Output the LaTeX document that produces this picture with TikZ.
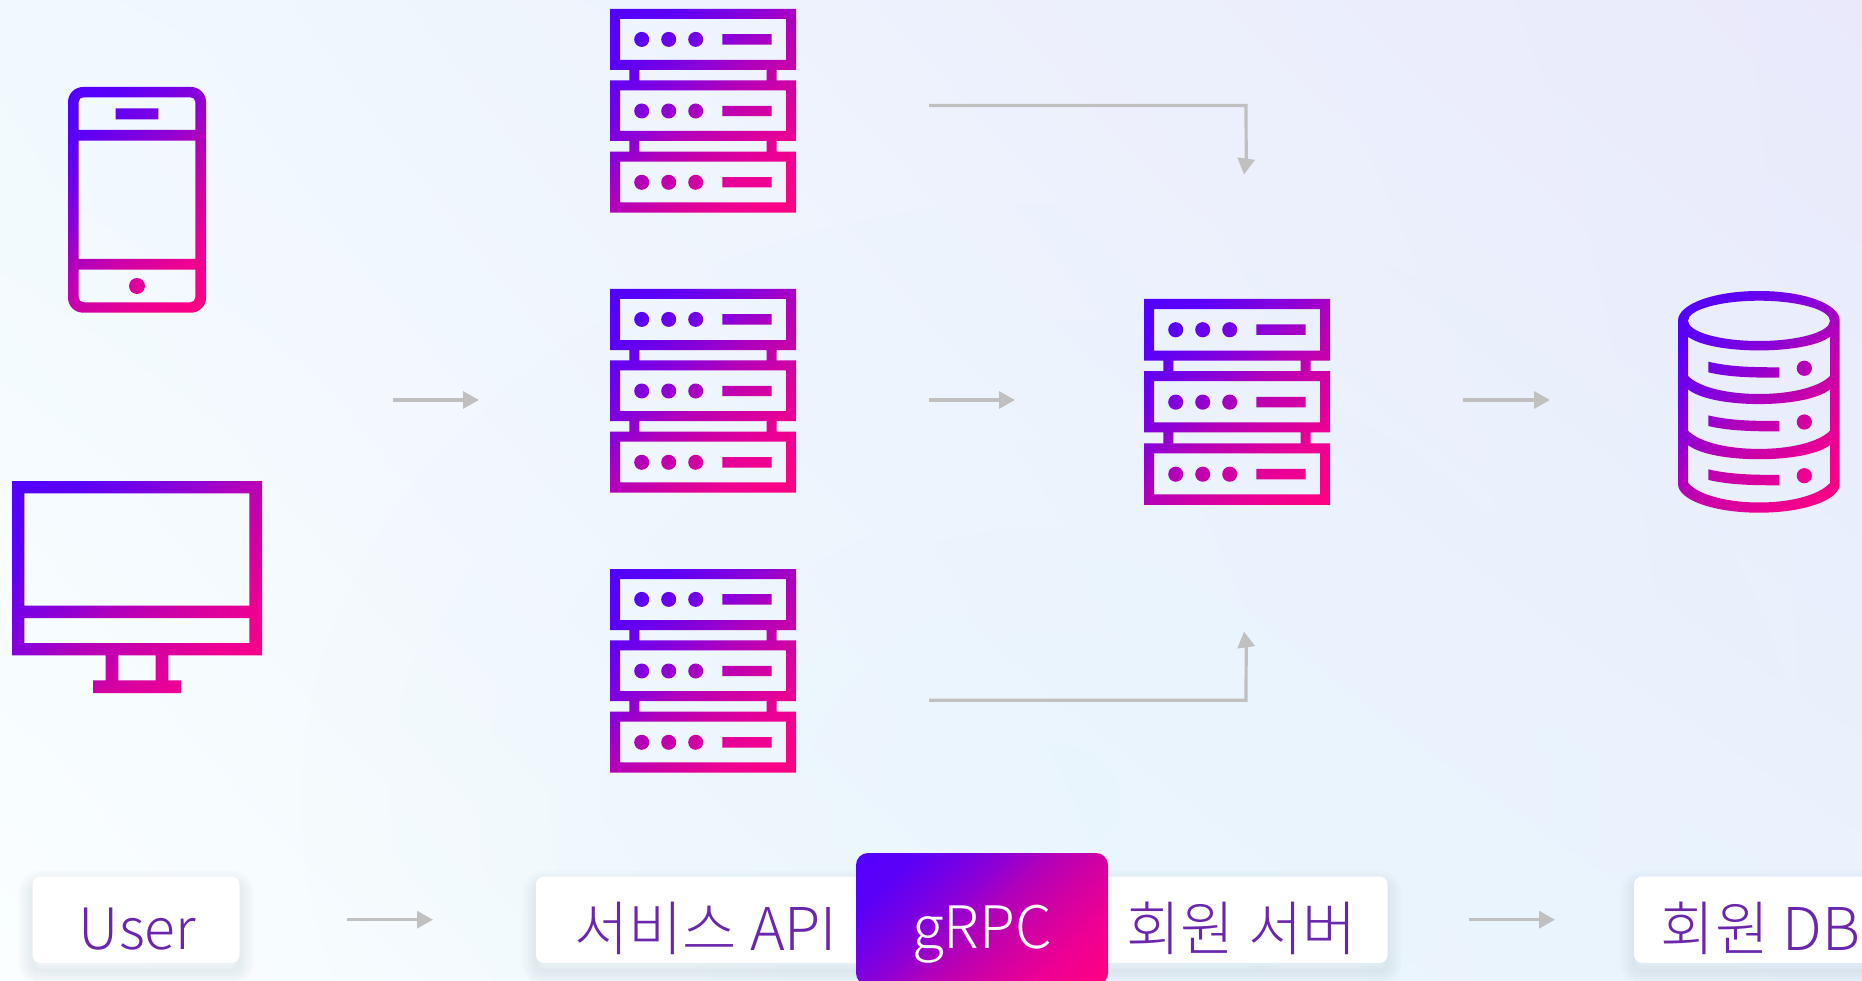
\documentclass[tikz,border=0pt]{standalone}
\usepackage{fontspec}
\usetikzlibrary{arrows.meta,calc,shadings,fadings}
\newfontfamily\krfont{Noto Sans CJK KR Light}
\definecolor{gradA}{HTML}{5200FF}
\definecolor{gradP}{HTML}{5C00F7}
\definecolor{gradQ}{HTML}{7800E4}
\definecolor{gradR}{HTML}{9000D4}
\definecolor{gradS}{HTML}{B000BC}
\definecolor{gradT}{HTML}{D000A4}
\definecolor{gradU}{HTML}{EC0094}
\definecolor{gradB}{HTML}{FF0080}
\definecolor{labelc}{HTML}{6A27AE}
\definecolor{arrowc}{HTML}{C0C0C0}
\definecolor{bgUL}{HTML}{F1F9FE}
\definecolor{bgUR}{HTML}{E9E9FB}
\definecolor{bgLL}{HTML}{FAFEFF}
\definecolor{bgLR}{HTML}{E9F3FD}
\definecolor{blobc}{HTML}{E4F4FD}
\definecolor{shadowc}{HTML}{50607A}
\tikzfading[name=blobfade,inner color=transparent!50,outer color=transparent!100]
\pgfdeclarehorizontalshading{iconGrad}{100bp}{color(0bp)=(gradA); color(14.6bp)=(gradA); color(25.9bp)=(gradP); color(35.8bp)=(gradQ); color(42.9bp)=(gradR); color(50bp)=(gradS); color(60.6bp)=(gradT); color(71.2bp)=(gradU); color(85.4bp)=(gradB); color(100bp)=(gradB)}
\tikzset{
  x=1pt,y=-1pt,
  iconfill/.style={even odd rule,shading=iconGrad,shading angle=-45},
  flow/.style={draw=arrowc,line width=3.2pt,-{Triangle[length=16pt,width=17pt]}},
  softshade/.style={preaction={draw=shadowc,line width=#1pt,opacity=.018,transform canvas={yshift=-8pt}}},
  labelbox/.style={rounded corners=8pt,inner sep=0pt,minimum height=86.3pt,text height=61.6pt,text depth=0pt,
    font=\krfont\fontsize{59}{59}\selectfont,text=labelc,fill=white,
    softshade=28,softshade=22,softshade=16,softshade=10,softshade=4},
  grpcbox/.style={rounded corners=12pt,inner sep=0pt,minimum height=132pt,minimum width=252pt,text height=58.6pt,text depth=0pt,
    font=\krfont\fontsize{58.5}{58.5}\selectfont,text=white,shading=iconGrad,shading angle=-45}
}
\newcommand\serverat[3]{%
  \path[iconfill,shift={(#1,#2)},yscale=#3]
    (0,0) rectangle (186,61) (10,10) rectangle (176,51)
    (0,71.3) rectangle (186,132) (10,81.3) rectangle (176,122)
    (0,142.7) rectangle (186,203.7) (10,152.7) rectangle (176,193.3)
    (19.3,61) rectangle (29.3,71.3) (156.7,61) rectangle (166.7,71.3)
    (19.3,132) rectangle (29.3,142.7) (156.7,132) rectangle (166.7,142.7)
    (31.7,30.4) circle[radius=7.5pt] (58.7,30.4) circle[radius=7.5pt] (85.7,30.4) circle[radius=7.5pt]
    (31.7,102) circle[radius=7.5pt] (58.7,102) circle[radius=7.5pt] (85.7,102) circle[radius=7.5pt]
    (31.7,173.3) circle[radius=7.5pt] (58.7,173.3) circle[radius=7.5pt] (85.7,173.3) circle[radius=7.5pt]
    (112.3,25.2) rectangle (161.7,35.6)
    (112.3,96.8) rectangle (161.7,107.2)
    (112.3,168.1) rectangle (161.7,178.5);
}
\begin{document}
\begin{tikzpicture}
\useasboundingbox (0,0) rectangle (1862,981);
\clip (0,0) rectangle (1862,981);
% background
\shade[upper left=bgUL,upper right=bgUR,lower left=bgLL,lower right=bgLR] (0,0) rectangle (1862,981);
\fill[blobc,path fading=blobfade,fit fading=true] (300,200) rectangle (1800,1400);
% phone
\path[iconfill]
  [rounded corners=15pt] (68,87) rectangle (206,312.7) [sharp corners]
  (78.7,130) -- (78.7,102) .. controls (78.7,99) and (80.7,97.3) .. (83.7,97.3) -- (190.3,97.3) .. controls (193.3,97.3) and (195.3,99) .. (195.3,102) -- (195.3,130) -- cycle
  (78.7,140.7) rectangle (195.3,259)
  (78.7,269.7) -- (195.3,269.7) -- (195.3,297.3) .. controls (195.3,300.3) and (193.3,302.3) .. (190.3,302.3) -- (83.7,302.3) .. controls (80.7,302.3) and (78.7,300.3) .. (78.7,297.3) -- cycle
  (115.7,108.3) rectangle (158.3,119.3)
  (137,286) circle[radius=8pt];
% monitor
\path[iconfill]
  (12,481) rectangle (262,655.3)
  (24.3,493.3) rectangle (249.3,605.7)
  (24.3,618) rectangle (249.3,643)
  (105.7,655.3) rectangle (118.3,680.3)
  (155.7,655.3) rectangle (168.3,680.3)
  (93,680.3) rectangle (181,693);
% servers
\serverat{610}{9}{1}
\serverat{610}{289}{1}
\serverat{610}{569}{1}
\serverat{1144}{299}{1.011}
% database
\path[iconfill]
  (1678,320.7) .. controls (1678,304) and (1714,291) .. (1759,291) .. controls (1804,291) and (1839.7,304) .. (1839.7,320.7)
    -- (1839.7,484) .. controls (1839.7,500) and (1804,512.7) .. (1759,512.7) .. controls (1714,512.7) and (1678,500) .. (1678,484) -- cycle
  (1688,320.8) .. controls (1688,309.7) and (1720,300.7) .. (1759,300.7) .. controls (1798,300.7) and (1830,309.7) .. (1830,320.8)
    .. controls (1830,332) and (1798,341) .. (1759,341) .. controls (1720,341) and (1688,332) .. (1688,320.8) -- cycle
  (1688,336.7) .. controls (1712,355) and (1806,355) .. (1830,336.7) -- (1830,376) .. controls (1806,400) and (1712,400) .. (1688,376) -- cycle
  (1688,389.3) .. controls (1712,409) and (1806,409) .. (1830,389.3) -- (1830,430.7) .. controls (1806,455) and (1712,455) .. (1688,430.7) -- cycle
  (1688,445) .. controls (1712,464) and (1806,464) .. (1830,445) -- (1830,483) .. controls (1806,509) and (1712,509) .. (1688,483) -- cycle
  (1708.3,361.7) .. controls (1730,367) and (1755,367.3) .. (1779.3,367.3) -- (1779.3,377.7) .. controls (1755,377.7) and (1730,377.5) .. (1708.3,372.3) -- cycle
  (1708.3,415.4) .. controls (1730,420.7) and (1755,421) .. (1779.3,421) -- (1779.3,431.4) .. controls (1755,431.4) and (1730,431.2) .. (1708.3,426) -- cycle
  (1708.3,469.3) .. controls (1730,474.6) and (1755,474.9) .. (1779.3,474.9) -- (1779.3,485.3) .. controls (1755,485.3) and (1730,485.1) .. (1708.3,479.9) -- cycle
  (1804.3,368.3) circle[radius=7.6pt] (1804.3,422) circle[radius=7.6pt] (1804.3,475.7) circle[radius=7.6pt];
% upper connectors
\coordinate (devR) at (393,400);
\coordinate (apiL) at (479,400);
\coordinate (apiR) at (929,400);
\coordinate (memL) at (1015,400);
\coordinate (memR) at (1463,400);
\coordinate (dbL) at (1550,400);
\coordinate (api1) at (929,105.5);
\coordinate (corner1) at (1246,105.5);
\coordinate (neck1) at (1246.2,158.5);
\coordinate (memT) at (1244,174.5);
\coordinate (api3) at (929,700.3);
\coordinate (corner3) at (1246,700.3);
\coordinate (neck3) at (1246.2,647.5);
\coordinate (memB) at (1244,631.5);
\draw[flow] (devR) -- (apiL);
\draw[flow] (apiR) -- (memL);
\draw[flow] (memR) -- (dbL);
\draw[flow] (api1) -- (corner1) -- (neck1) -- (memT);
\draw[flow] (api3) -- (corner3) -- (neck3) -- (memB);
% labels
\node[labelbox,minimum width=207pt,text height=58.6pt,font=\krfont\fontsize{57}{57}\selectfont] (user) at (136,919.7) {\hspace*{3pt}User};
\node[labelbox,minimum width=339pt] (api) at (705.5,919.7) {서비스 API};
\node[labelbox,minimum width=292pt] (member) at (1241.5,919.7) {회원 서버};
\node[labelbox,minimum width=253pt] (db) at (1760.5,919.7) {회원 DB};
\node[grpcbox] (grpc) at (982,919) {gRPC};
\coordinate (lowA) at (347,919.7);
\coordinate (lowB) at (433,919.7);
\coordinate (lowC) at (1469,919.7);
\coordinate (lowD) at (1555,919.7);
\draw[flow] (lowA) -- (lowB);
\draw[flow] (lowC) -- (lowD);
\end{tikzpicture}
\end{document}
